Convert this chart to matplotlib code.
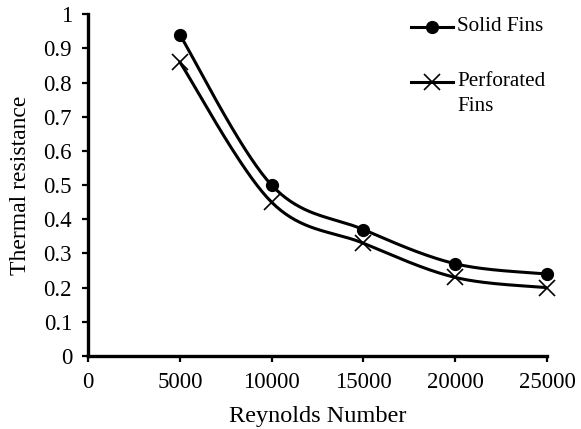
import numpy as np
import matplotlib
matplotlib.use("Agg")
import matplotlib.pyplot as plt
from matplotlib.lines import Line2D

reynolds = [5000, 10000, 15000, 20000, 25000]
solid_fins = [0.94, 0.50, 0.37, 0.27, 0.24]
perforated_fins = [0.86, 0.45, 0.33, 0.23, 0.20]
x_ticks = [0, 5000, 10000, 15000, 20000, 25000]
y_ticks = [0, 0.1, 0.2, 0.3, 0.4, 0.5, 0.6, 0.7, 0.8, 0.9, 1.0]
y_tick_labels = ["0", "0.1", "0.2", "0.3", "0.4", "0.5", "0.6", "0.7", "0.8", "0.9", "1"]

plt.rcParams["font.family"] = ["Liberation Serif", "DejaVu Serif"]


def smooth(xs, ys, n=40):
    """Cardinal (Catmull-Rom style) Bezier smoothing through the points."""
    xs = np.asarray(xs, float)
    ys = np.asarray(ys, float)
    px, py = [], []
    k = len(xs)
    for i in range(k - 1):
        x0, y0 = (xs[i - 1], ys[i - 1]) if i > 0 else (xs[i], ys[i])
        x1, y1 = xs[i], ys[i]
        x2, y2 = xs[i + 1], ys[i + 1]
        x3, y3 = (xs[i + 2], ys[i + 2]) if i + 2 < k else (xs[i + 1], ys[i + 1])
        c1x, c1y = x1 + (x2 - x0) / 6, y1 + (y2 - y0) / 6
        c2x, c2y = x2 - (x3 - x1) / 6, y2 - (y3 - y1) / 6
        t = np.linspace(0, 1, n)
        bx = (1 - t) ** 3 * x1 + 3 * (1 - t) ** 2 * t * c1x + 3 * (1 - t) * t ** 2 * c2x + t ** 3 * x2
        by = (1 - t) ** 3 * y1 + 3 * (1 - t) ** 2 * t * c1y + 3 * (1 - t) * t ** 2 * c2y + t ** 3 * y2
        px.extend(bx)
        py.extend(by)
    return np.array(px), np.array(py)


fig = plt.figure(figsize=(5.81, 4.29), dpi=100)
ax = fig.add_axes([0.1515, 0.170, 0.79, 0.797])

lw = 2.2
circle_style = dict(marker="o", markersize=8.5)
cross_style = dict(marker="x", markersize=12, mew=1.2)

sx, sy = smooth(reynolds, solid_fins)
px, py = smooth(reynolds, perforated_fins)
ax.plot(sx, sy, color="black", lw=lw, solid_capstyle="round")
ax.plot(px, py, color="black", lw=lw, solid_capstyle="round")
ax.plot(reynolds, solid_fins, ls="none", color="black", clip_on=False, **circle_style)
ax.plot(reynolds, perforated_fins, ls="none", color="black", clip_on=False, **cross_style)

ax.set_xlim(0, 25000)
ax.set_ylim(0, 1)
ax.set_xticks(x_ticks)
ax.set_xticklabels([str(v) for v in x_ticks])
ax.set_yticks(y_ticks)
ax.set_yticklabels(y_tick_labels)
for side in ("top", "right"):
    ax.spines[side].set_visible(False)
for side in ("left", "bottom"):
    ax.spines[side].set_linewidth(2.4)
ax.tick_params(axis="both", direction="out", length=4.5, width=1.6, labelsize=16.5)
ax.tick_params(axis="y", pad=7)
ax.tick_params(axis="x", pad=7)

ax.set_xlabel("Reynolds Number", fontsize=17.5, labelpad=9)
ax.set_ylabel("Thermal resistance", fontsize=17, labelpad=9)

# Legend drawn by hand so the handle sits on the first line of a two-line label
legend_items = [
    ("Solid Fins", 0.962, circle_style),
    ("Perforated\nFins", 0.801, cross_style),
]
for label, ypos, style in legend_items:
    ln = Line2D([0.7037, 0.795], [ypos, ypos], color="black", lw=lw,
                transform=ax.transAxes, clip_on=False)
    ax.add_line(ln)
    mk = Line2D([0.7495], [ypos], color="black", ls="none",
                transform=ax.transAxes, clip_on=False, **style)
    ax.add_line(mk)
    ax.text(0.804, ypos + 0.030, label, transform=ax.transAxes, fontsize=15.2,
            va="top", ha="left", linespacing=1.4)

fig.savefig("out.png", dpi=100)
